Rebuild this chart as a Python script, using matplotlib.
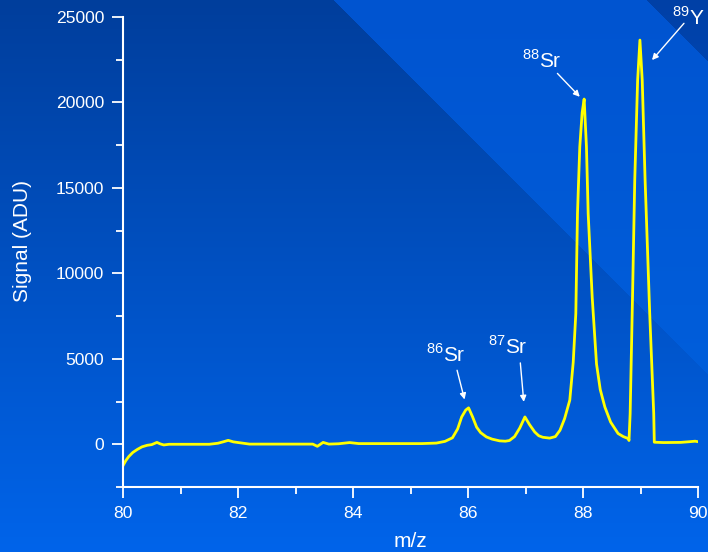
import numpy as np
import matplotlib
matplotlib.use("Agg")
import matplotlib.pyplot as plt
from matplotlib.ticker import MultipleLocator

plt.rcParams["font.family"] = ["Liberation Sans", "DejaVu Sans"]
plt.rcParams["mathtext.fontset"] = "custom"
plt.rcParams["mathtext.rm"] = "Liberation Sans"

# ---- spectrum (m/z, signal in ADU) -----------------------------------------
mz = [
    80.00, 80.05, 80.10, 80.17, 80.25, 80.33, 80.42, 80.50, 80.59, 80.65,
    80.71, 80.80, 81.50, 81.65, 81.75, 81.83, 81.92, 82.05, 82.20, 83.30,
    83.38, 83.48, 83.58, 83.75, 83.94, 84.10, 85.20, 85.45, 85.60, 85.73,
    85.82, 85.89, 85.96, 86.01, 86.08, 86.15, 86.22, 86.32, 86.42, 86.55,
    86.65, 86.72, 86.81, 86.90, 86.99, 87.07, 87.16, 87.23, 87.30, 87.42,
    87.52, 87.60, 87.68, 87.77, 87.83, 87.875, 87.904, 87.944, 87.985, 88.02,
    88.06, 88.09, 88.16, 88.235, 88.30, 88.38, 88.48, 88.61, 88.70, 88.79,
    88.80, 88.82, 88.86, 88.90, 88.95, 88.99, 89.03, 89.08, 89.16, 89.23,
    89.24, 89.40, 89.70, 89.85, 89.95, 90.00,
]
signal = [
    -1250, -950, -720, -480, -300, -150, -60, -20, 110, 20,
    -40, 0, 0, 60, 150, 230, 140, 80, 10, 10,
    -120, 110, 10, 30, 100, 40, 40, 70, 170, 380,
    900, 1600, 2000, 2130, 1600, 1000, 680, 430, 300, 200,
    180, 220, 450, 950, 1600, 1150, 720, 500, 410, 360,
    450, 820, 1500, 2580, 4800, 7650, 13500, 17400, 19400, 20200,
    17400, 13500, 8600, 4700, 3200, 2180, 1300, 630, 450, 330,
    220, 1800, 8430, 15460, 21300, 23650, 21300, 15460, 7670, 1800,
    120, 100, 110, 150, 180, 150,
]

# peak labels: text, label position, arrow tail, arrow head
peak_labels = ["$^{86}$Sr", "$^{87}$Sr", "$^{88}$Sr", "$^{89}$Y"]
label_xy = [(85.62, 4820), (86.70, 5310), (87.28, 22000), (89.83, 24530)]
arrow_tail = [(85.81, 4330), (86.91, 4760), (87.555, 21700), (89.756, 24630)]
arrow_head = [(85.94, 2620), (86.97, 2480), (87.944, 20330), (89.20, 22480)]


def background(w: int, h: int) -> np.ndarray:
    """Blue vertical gradient with a lighter diagonal band."""
    yy, xx = np.mgrid[0:h, 0:w].astype(float)
    t = yy / (h - 1)
    top = np.array([0x00, 0x3E, 0x9C]) / 255
    bot = np.array([0x00, 0x64, 0xEA]) / 255
    img = top + (bot - top) * t[..., None]

    band = (xx - yy > 333) & (xx - yy < 647)
    fade = np.clip(1 - yy / 375, 0, 1)[..., None]
    lift = (np.array([0, 0x06, 0x0A]) + np.array([0, 0x10, 0x2A]) * fade) / 255
    img = np.where(band[..., None], img + lift, img)

    corner = xx - yy >= 647
    img = np.where(corner[..., None], img + np.array([0, 2, 10]) / 255, img)
    return np.clip(img, 0, 1)


W, H = 708, 552
fig = plt.figure(figsize=(W / 100, H / 100), dpi=100)

bg = fig.add_axes([0, 0, 1, 1], zorder=0)
bg.imshow(background(W, H), aspect="auto", interpolation="bilinear")
bg.set_axis_off()

ax = fig.add_axes([123 / W, 65 / H, 575 / W, 470 / H], zorder=1)
ax.set_facecolor("none")

ax.plot(mz, signal, color="#ffff00", lw=2.0, solid_joinstyle="round")

for txt, (tx, ty), tail, head in zip(peak_labels, label_xy, arrow_tail, arrow_head):
    ax.text(tx, ty, txt, color="white", fontsize=15, ha="center", va="baseline")
    ax.annotate("", xy=head, xytext=tail,
                arrowprops=dict(arrowstyle="-|>", color="white", lw=1.0,
                                mutation_scale=9, shrinkA=0, shrinkB=0))

ax.set_xlim(80, 90)
ax.set_ylim(-2500, 25000)
ax.xaxis.set_major_locator(MultipleLocator(2))
ax.xaxis.set_minor_locator(MultipleLocator(1))
ax.yaxis.set_major_locator(MultipleLocator(5000))
ax.yaxis.set_minor_locator(MultipleLocator(2500))

for side in ("top", "right"):
    ax.spines[side].set_visible(False)
for side in ("left", "bottom"):
    ax.spines[side].set_color("white")
    ax.spines[side].set_linewidth(1.5)

ax.tick_params(which="both", direction="out", color="white", width=1.3,
               labelcolor="white", labelsize=12.6, pad=5.5)
ax.tick_params(which="major", length=8)
ax.tick_params(which="minor", length=5)

ax.set_xlabel("m/z", color="white", fontsize=15, labelpad=8)
ax.set_ylabel("Signal (ADU)", color="white", fontsize=15)
ax.yaxis.set_label_coords(-0.158, 0.523)

fig.savefig("out.png", dpi=100)
